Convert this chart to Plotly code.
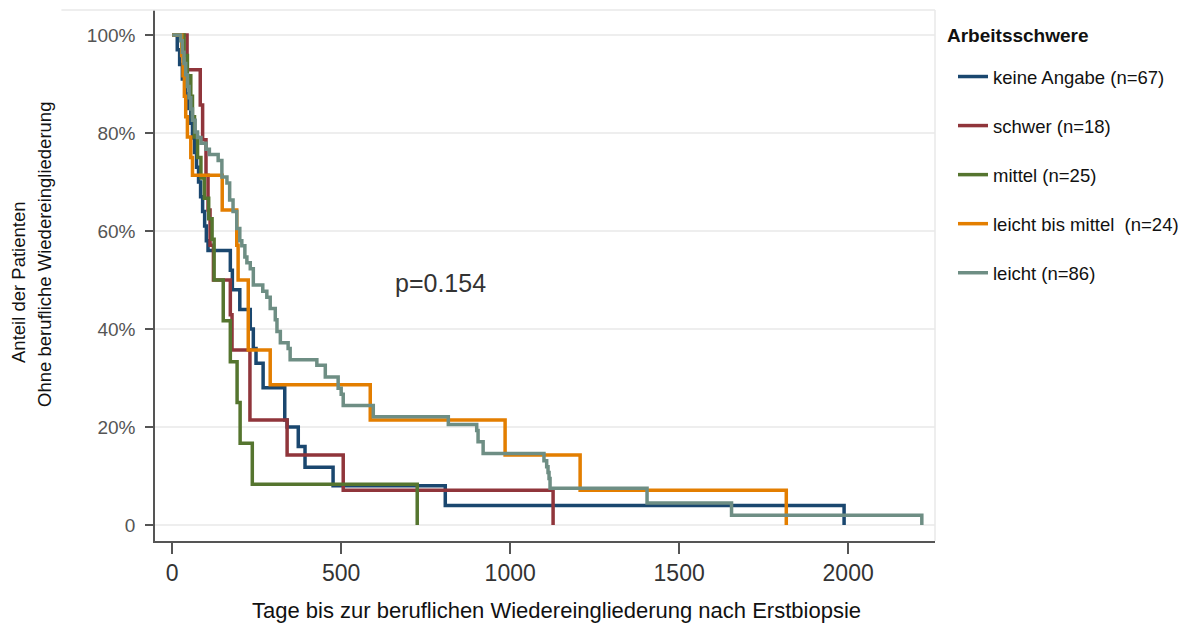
import plotly.graph_objects as go

# ---- data ----
names = ["keine Angabe (n=67)", "schwer (n=18)", "mittel (n=25)",
         "leicht bis mittel  (n=24)", "leicht (n=86)"]
colors = ["#1a476f", "#90353b", "#55752f", "#e37e00", "#6e8e84"]

blue_t = [0, 15, 22, 30, 40, 48, 55, 60, 66, 72, 78, 84, 90, 96, 101, 106, 172, 178, 200, 231, 240, 248,
          269, 333, 340, 373, 393, 476, 808, 1988]
blue_s = [100, 97, 94, 91, 88, 85, 82, 79, 76, 73, 70, 67, 64, 61, 58, 56, 52, 48, 44, 40, 36, 33,
          28, 21.4, 20, 16, 11.8, 8, 4, 0]

red_t = [0, 44, 83, 90, 100, 106, 112, 122, 172, 177, 230, 340, 506, 1127]
red_s = [100, 92.9, 85.7, 78.6, 71.4, 64.3, 57.1, 50, 42.9, 35.7, 21.4, 14.3, 7.1, 0]

green_t = [0, 35, 45, 55, 60, 66, 75, 85, 95, 108, 118, 124, 151, 172, 192, 201, 237, 725]
green_s = [100, 95.8, 91.7, 87.5, 83.3, 79.2, 75, 70.8, 66.7, 62.5, 58.3, 50, 41.7, 33.3, 25, 16.7, 8.3, 0]

orange_t = [0, 28, 32, 36, 40, 45, 55, 60, 148, 191, 195, 225, 290, 586, 985, 1207, 1817]
orange_s = [100, 95.8, 91.7, 87.5, 83.3, 79.2, 75, 71.4, 64.3, 57.1, 50, 35.7, 28.6, 21.4, 14.3, 7.1, 0]

gray_t = [0, 25, 30, 35, 40, 45, 50, 55, 60, 68, 75, 85, 100, 110, 136, 147, 162, 170, 180, 191, 200,
          206, 215, 221, 231, 240, 268, 280, 290, 305, 310, 320, 343, 349, 428, 453, 491, 500, 506,
          595, 817, 901, 905, 920, 1100, 1108, 1112, 1115, 1118, 1405, 1655, 2218]
gray_s = [100, 98.8, 96.5, 94.2, 91.9, 89.5, 87.2, 84.9, 82.6, 80.2, 79.1, 77.9, 76.7, 75.6, 74.4, 71,
          69.8, 66.3, 64, 60.5, 58, 57, 54.7, 53.5, 52.3, 49, 47.7, 46.5, 44.2, 41.9, 39.5, 37.2, 36,
          33.7, 32.6, 30.2, 27.9, 26.7, 24.4, 22.1, 20.5, 19.3, 17, 14.6, 13.1, 11.9, 10.7, 9.5, 7.5,
          4.5, 2.0, 0]

series_t = [blue_t, red_t, green_t, orange_t, gray_t]
series_s = [blue_s, red_s, green_s, orange_s, gray_s]

y_ticks = [0, 20, 40, 60, 80, 100]
y_ticktext = ["0", "20%", "40%", "60%", "80%", "100%"]
x_ticks = [0, 500, 1000, 1500, 2000]

FONT = "Liberation Sans, Arial, sans-serif"
OFF = 8                      # default page body margin
W, H = 1188 - OFF, 628 - OFF
# plot area in page pixels: left 155, right 935, top 10, bottom 541
L = 155 - OFF
T = 10 - OFF
R = W - (935 - OFF)
B = H - (541 - OFF)
PW, PH = W - L - R, H - T - B


def px_x(p):
    return (p - OFF - L) / PW


def px_y(p):
    return (H - B - (p - OFF)) / PH


fig = go.Figure()
for i in range(len(names)):
    fig.add_trace(go.Scatter(
        x=series_t[i], y=series_s[i], mode="lines", name=names[i],
        line=dict(color=colors[i], width=3.5, shape="hv"),
        legendgroup=str(i),
    ))

fig.update_layout(
    width=W, height=H,
    margin=dict(l=L, r=R, t=T, b=B, autoexpand=False),
    paper_bgcolor="white", plot_bgcolor="white",
    font=dict(family=FONT, color="#222"),
    showlegend=True,
    legend=dict(
        xref="container", yref="container",
        x=(953 - OFF) / W, xanchor="left",
        y=1 - (58 - OFF) / H, yanchor="top",
        font=dict(size=18.5, color="#111"),
        traceorder="grouped", tracegroupgap=22,
        bgcolor="rgba(0,0,0,0)",
    ),
    xaxis=dict(
        range=[-50.9, 2257], tickvals=x_ticks, automargin=False,
        showgrid=False, zeroline=False,
        showline=True, linecolor="#555", linewidth=1.5,
        ticks="outside", ticklen=11, tickcolor="#555", tickwidth=1.5,
        tickfont=dict(size=23, color="#333"),
    ),
    yaxis=dict(
        range=[-3.27, 105.1], tickvals=y_ticks, ticktext=y_ticktext, automargin=False,
        showgrid=True, gridcolor="#eeeeee", gridwidth=1.5, zeroline=False,
        showline=True, linecolor="#555", linewidth=1.5,
        ticks="outside", ticklen=8, tickcolor="#555", tickwidth=1.5,
        ticklabelstandoff=6,
        tickfont=dict(size=19, color="#555"),
    ),
    annotations=[
        dict(text="<b>Arbeitsschwere</b>", xref="paper", yref="paper",
             x=px_x(945), y=px_y(35), xanchor="left", yanchor="middle", showarrow=False,
             font=dict(size=19, color="#111")),
        dict(text="Anteil der Patienten",
             xref="paper", yref="paper", x=px_x(18), y=px_y(283),
             xanchor="center", yanchor="middle", textangle=-90, showarrow=False,
             font=dict(size=18.5, color="#111")),
        dict(text="Ohne berufliche Wiedereingliederung",
             xref="paper", yref="paper", x=px_x(44), y=px_y(255),
             xanchor="center", yanchor="middle", textangle=-90, showarrow=False,
             font=dict(size=18.5, color="#111")),
        dict(text="Tage bis zur beruflichen Wiedereingliederung nach Erstbiopsie",
             xref="paper", yref="paper", x=px_x(556), y=px_y(610),
             xanchor="center", yanchor="middle", showarrow=False,
             font=dict(size=22, color="#111")),
        dict(text="p=0.154", xref="x", yref="y", x=793, y=49.4,
             xanchor="center", yanchor="middle", showarrow=False,
             font=dict(size=25, color="#333")),
    ],
    shapes=[
        dict(type="line", xref="paper", yref="paper", x0=-0.12, x1=1, y0=1, y1=1,
             line=dict(color="#e8e8e8", width=1.5)),
        dict(type="line", xref="paper", yref="paper", x0=1, x1=1, y0=0, y1=1,
             line=dict(color="#e8e8e8", width=1.5)),
    ],
)

fig.write_html("out.html")
